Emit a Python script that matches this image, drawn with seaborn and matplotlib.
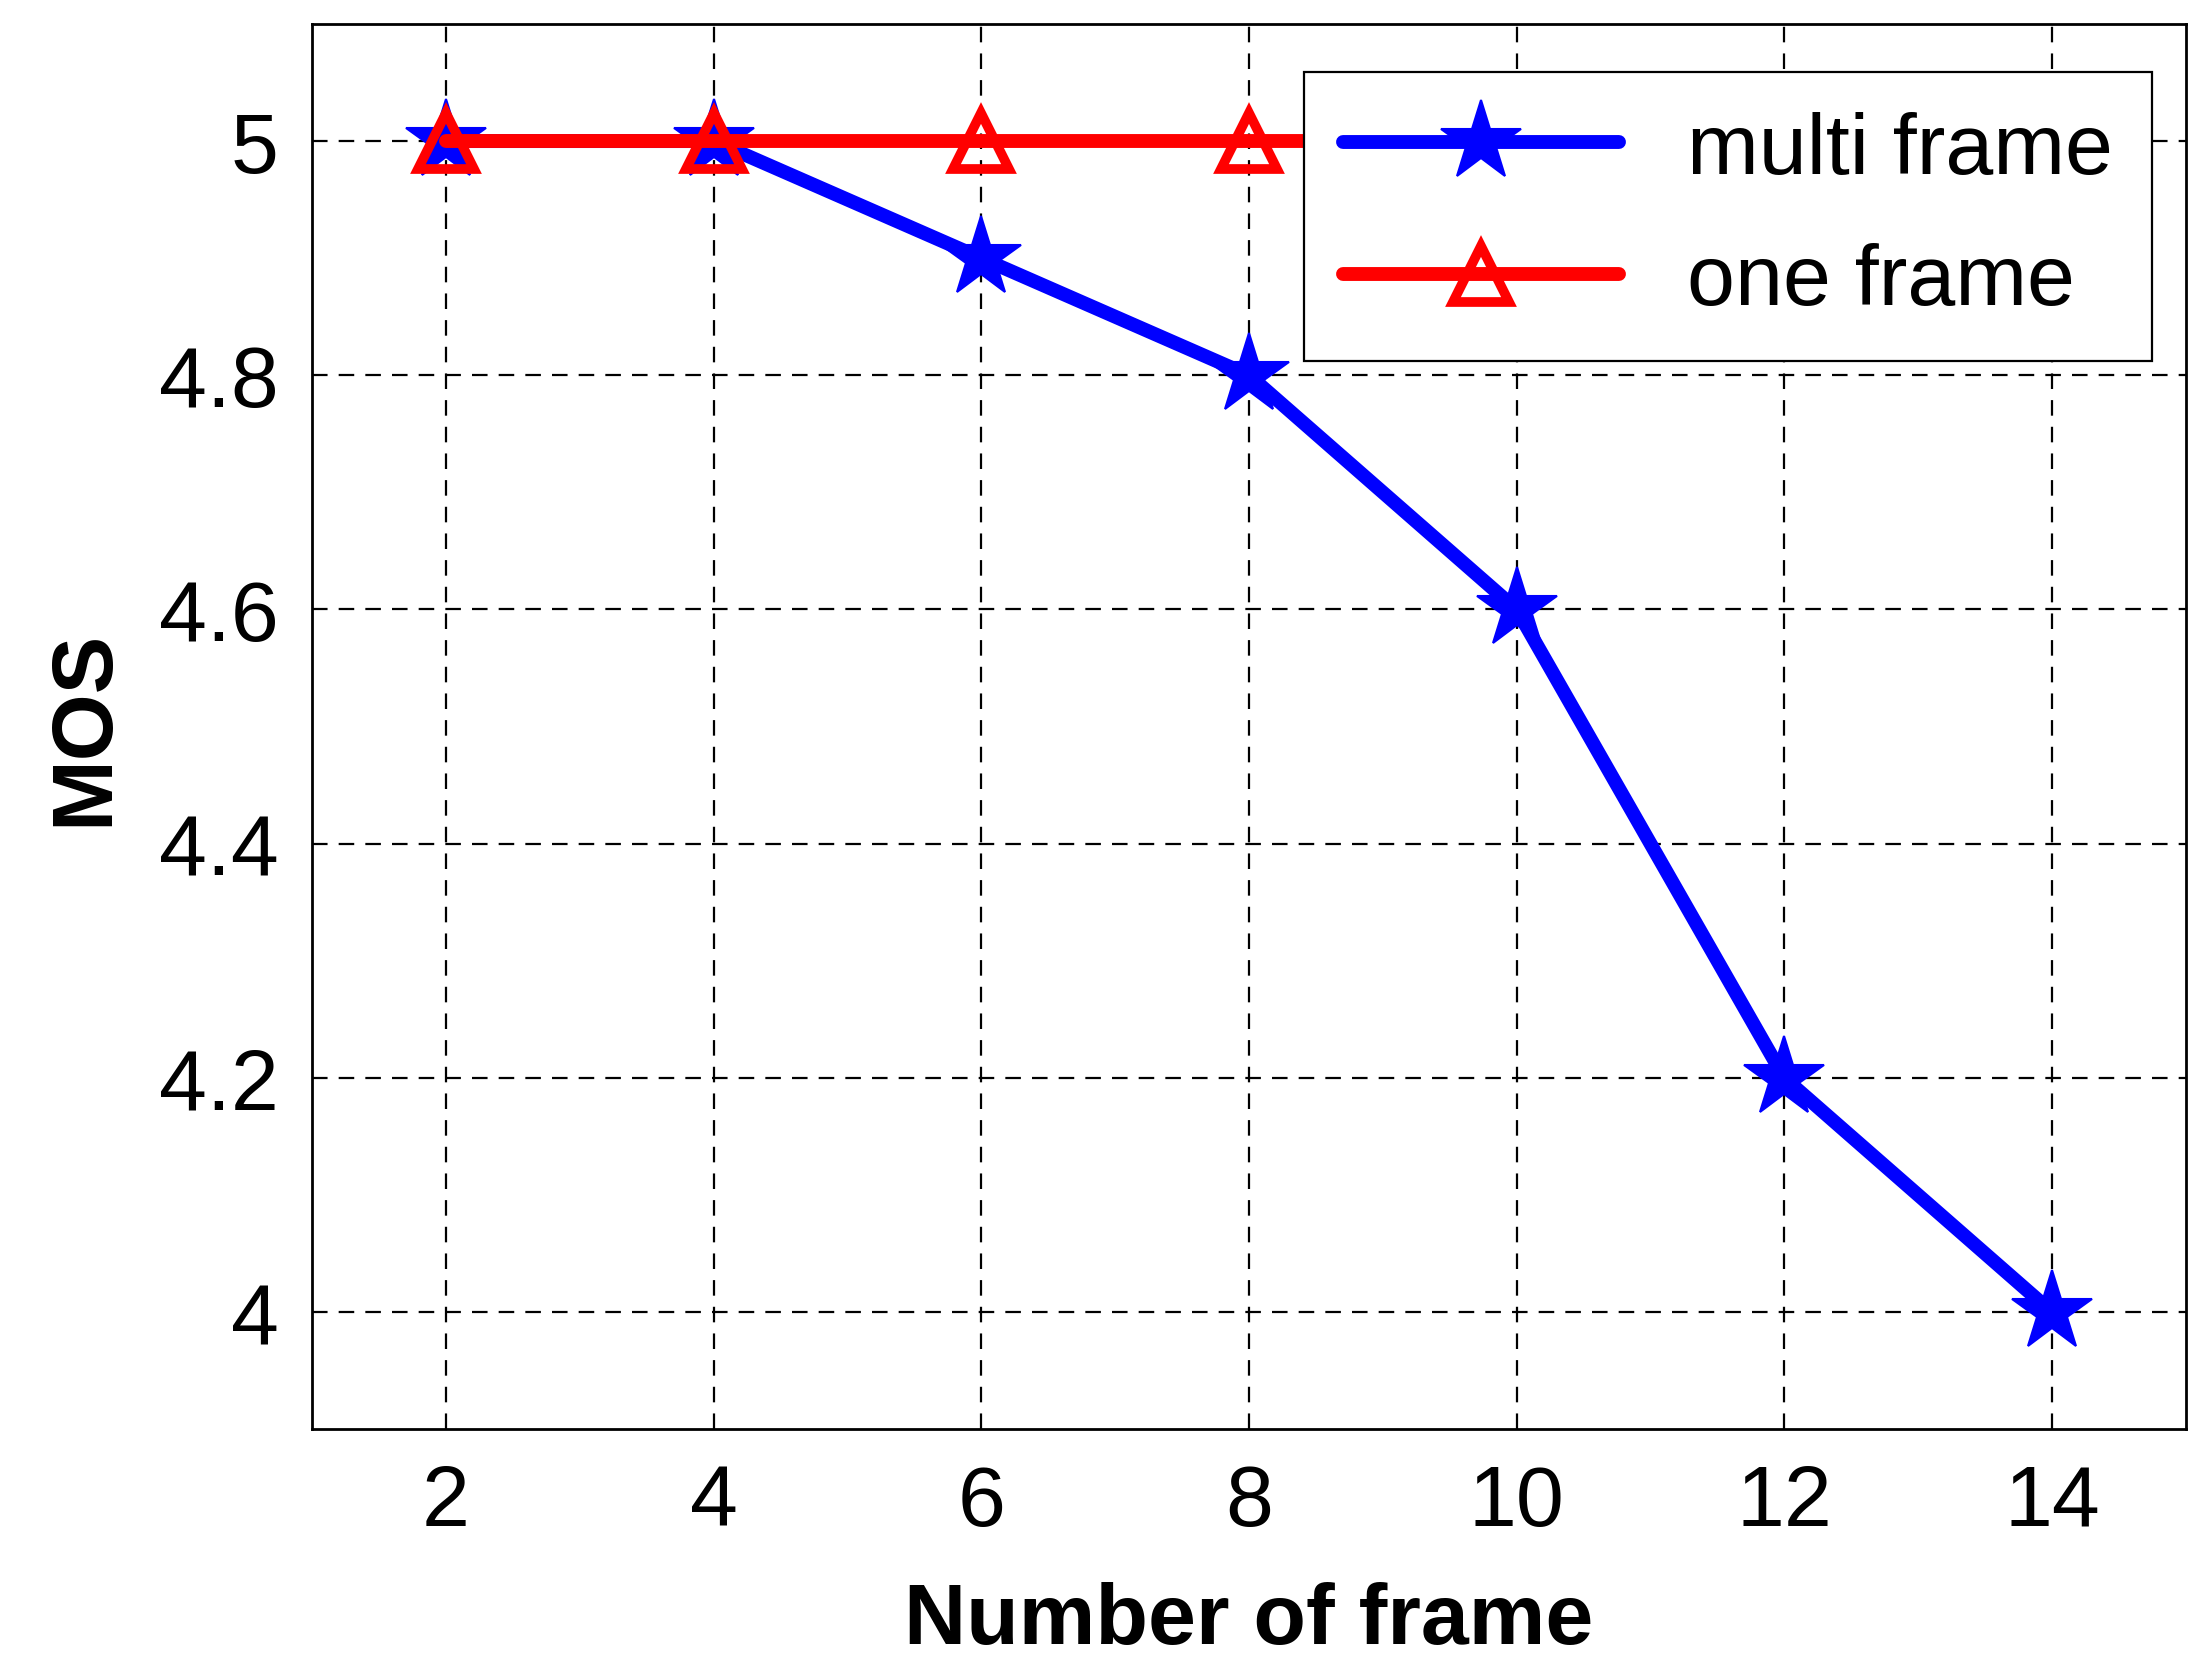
import matplotlib
matplotlib.use('Agg')
import matplotlib.pyplot as plt
import seaborn as sns
import pandas as pd

frames = [2, 4, 6, 8, 10, 12, 14]
multi_frame = [5.0, 5.0, 4.9, 4.8, 4.6, 4.2, 4.0]
one_frame = [5.0, 5.0, 5.0, 5.0, 5.0, 5.0, 5.0]

sns.set_style('white')
plt.rcParams['font.family'] = ['Liberation Sans', 'DejaVu Sans']
plt.rcParams['text.color'] = 'black'
plt.rcParams['axes.labelcolor'] = 'black'
plt.rcParams['xtick.color'] = 'black'
plt.rcParams['ytick.color'] = 'black'

fig = plt.figure(figsize=(10.995, 8.325), dpi=200)
ax = fig.add_axes([0.142, 0.141, 0.852, 0.844])

df = pd.DataFrame({'frame': frames, 'multi': multi_frame, 'one': one_frame})
sns.lineplot(data=df, x='frame', y='multi', ax=ax, color='blue', lw=5,
             marker='*', markersize=30, markeredgecolor='blue', label='multi frame')
sns.lineplot(data=df, x='frame', y='one', ax=ax, color='red', lw=5,
             marker='^', markersize=20, markerfacecolor='none',
             markeredgecolor='red', markeredgewidth=3.5, label='one frame')

ax.set_xlim(1, 15)
ax.set_ylim(3.9, 5.1)
ax.set_xticks(frames)
ax.set_yticks([4, 4.2, 4.4, 4.6, 4.8, 5])
ax.set_yticklabels(['4', '4.2', '4.4', '4.6', '4.8', '5'])
ax.tick_params(labelsize=31, direction='in', length=6, pad=12)
ax.grid(True, color='black', linestyle=(0, (7, 5)), lw=0.8)
for s in ax.spines.values():
    s.set_color('black')
    s.set_linewidth(1)
ax.set_xlabel('Number of frame', fontsize=31, fontweight='bold', labelpad=14)
ax.set_ylabel('MOS', fontsize=31, fontweight='bold', labelpad=12)

leg = ax.legend(loc='upper right', fontsize=31, frameon=True, framealpha=1,
                fancybox=False, edgecolor='black', handlelength=3.2,
                labelspacing=0.6, borderpad=0.45,
                borderaxespad=0, bbox_to_anchor=(0.982, 0.966))
leg.get_frame().set_linewidth(0.8)

fig.savefig('out.png')
